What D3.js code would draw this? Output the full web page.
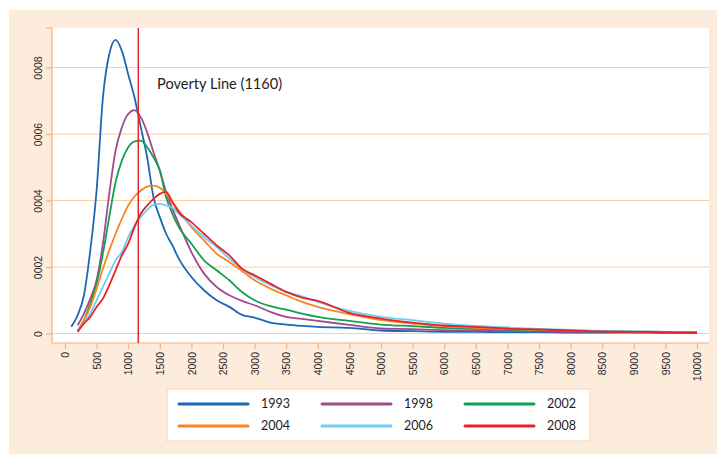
<!DOCTYPE html>
<html>
<head>
<meta charset="utf-8">
<script src="https://cdn.jsdelivr.net/npm/d3@7"></script>
<style>
    html, body { margin: 0; padding: 0; background: #ffffff; }
    svg { display: block; font-family: Lato, 'Liberation Sans', sans-serif; }
    .tick-label { font-size: 10.5px; fill: #2a2a2a; }
    .legend-label { font-size: 12.5px; fill: #1e1e1e; }
    .note { font-size: 14.6px; fill: #1e1e1e; }
</style>
</head>
<body>
<div id="container"></div>
<script>
'use strict';

//Data (density in units of 1e-4)
const incomes = [100, 200, 300, 400, 500, 600, 700, 800, 900, 1000, 1100, 1200, 1300, 1400, 1500, 1600, 1700, 1800,
    2000, 2200, 2400, 2600, 2800, 3000, 3250, 3500, 3750, 4000, 4500, 5000, 5500, 6000, 6500, 7000, 7500, 8000,
    8500, 9000, 9500, 10000];
const years = ['1993', '1998', '2002', '2004', '2006', '2008'];
const d1993 = [0.2, 0.55, 1.15, 2.5, 4.3, 7.1, 8.4, 8.83, 8.5, 7.8, 7.1, 6.2, 5.3, 4.1, 3.5, 3.0, 2.65, 2.25,
    1.7, 1.3, 1.0, 0.8, 0.56, 0.48, 0.33, 0.27, 0.23, 0.2, 0.17, 0.09, 0.07, 0.05, 0.05, 0.04, 0.04, 0.03,
    0.03, 0.03, 0.02, 0.02];
const d1998 = [null, 0.25, 0.6, 1.05, 1.6, 2.7, 4.2, 5.5, 6.2, 6.6, 6.72, 6.5, 6.05, 5.45, 4.9, 4.25, 3.75, 3.3,
    2.45, 1.8, 1.4, 1.15, 0.98, 0.85, 0.65, 0.5, 0.44, 0.38, 0.26, 0.15, 0.13, 0.1, 0.09, 0.08, 0.07, 0.05,
    0.05, 0.04, 0.03, 0.02];
const d2002 = [null, 0.05, 0.4, 0.9, 1.5, 2.4, 3.5, 4.55, 5.2, 5.6, 5.78, 5.8, 5.6, 5.3, 4.9, 4.1, 3.6, 3.2,
    2.7, 2.2, 1.9, 1.6, 1.25, 1.0, 0.82, 0.72, 0.6, 0.5, 0.38, 0.27, 0.22, 0.17, 0.14, 0.12, 0.1, 0.08,
    0.06, 0.05, 0.04, 0.03];
const d2004 = [null, 0.1, 0.4, 0.8, 1.35, 1.95, 2.5, 3.0, 3.45, 3.85, 4.12, 4.3, 4.42, 4.45, 4.38, 4.2, 3.95, 3.7,
    3.2, 2.8, 2.4, 2.15, 1.88, 1.6, 1.35, 1.15, 0.95, 0.8, 0.58, 0.4, 0.3, 0.22, 0.17, 0.14, 0.11, 0.09,
    0.07, 0.06, 0.05, 0.04];
const d2006 = [null, 0.1, 0.3, 0.6, 1.0, 1.4, 1.8, 2.2, 2.45, 2.9, 3.25, 3.5, 3.72, 3.87, 3.9, 3.85, 3.78, 3.6,
    3.25, 2.9, 2.6, 2.25, 1.95, 1.7, 1.45, 1.25, 1.12, 0.95, 0.68, 0.5, 0.4, 0.3, 0.23, 0.18, 0.14, 0.11,
    0.08, 0.07, 0.05, 0.04];
const d2008 = [null, 0.05, 0.3, 0.5, 0.8, 1.05, 1.45, 1.9, 2.35, 2.7, 3.2, 3.6, 3.85, 4.05, 4.2, 4.26, 3.95, 3.65,
    3.35, 3.0, 2.65, 2.35, 1.95, 1.75, 1.5, 1.25, 1.08, 0.98, 0.62, 0.45, 0.33, 0.24, 0.2, 0.15, 0.12, 0.09,
    0.06, 0.05, 0.04, 0.03];
const seriesValues = [d1993, d1998, d2002, d2004, d2006, d2008];
const colors = ['#1c68b4', '#a04b8e', '#12a04f', '#f7861f', '#6dcdf3', '#e8222b'];

const xTicks = d3.range(0, 10001, 500);
const yTicks = [0, 2, 4, 6, 8];
const yTickLabels = ['0', '0002', '0004', '0006', '0008'];
const povertyLine = 1160;
const povertyText = 'Poverty Line (1160)';

//Sizing
const VIZ = {
    WIDTH: 717,
    HEIGHT: 454,
    PANEL: { LEFT: 9, TOP: 10 },
    PLOT: { LEFT: 52, TOP: 28, RIGHT: 709, BOTTOM: 343 },
};
const LEGEND = {
    LEFT: 167, TOP: 389, WIDTH: 423, HEIGHT: 52,
    COLS: [12, 155, 298],
    ROWS: [15, 37],
    LINE: 69,
    GAP: 13,
};
const PEACH = '#fdecdc';
const GRID = '#fbcfa6';
const AXIS = '#f5b27a';

//Canvas
const svg = d3.select('#container')
    .append('svg')
    .attr('width', VIZ.WIDTH)
    .attr('height', VIZ.HEIGHT)
    .attr('viewBox', `0 0 ${VIZ.WIDTH} ${VIZ.HEIGHT}`);

svg.append('rect')
    .attr('x', VIZ.PANEL.LEFT)
    .attr('y', VIZ.PANEL.TOP)
    .attr('width', VIZ.WIDTH - VIZ.PANEL.LEFT)
    .attr('height', VIZ.HEIGHT - VIZ.PANEL.TOP)
    .attr('fill', PEACH);

svg.append('rect')
    .attr('x', VIZ.PLOT.LEFT)
    .attr('y', VIZ.PLOT.TOP)
    .attr('width', VIZ.PLOT.RIGHT - VIZ.PLOT.LEFT)
    .attr('height', VIZ.PLOT.BOTTOM - VIZ.PLOT.TOP)
    .attr('fill', '#ffffff');

//Scales
const x = d3.scaleLinear().domain([0, 10000]).range([65, 697]);
const y = d3.scaleLinear().domain([0, 8]).range([333.5, 67.5]);

//Grid lines
svg.append('g')
    .selectAll('line')
    .data(yTicks)
    .join('line')
    .attr('x1', VIZ.PLOT.LEFT)
    .attr('x2', VIZ.PLOT.RIGHT)
    .attr('y1', d => y(d))
    .attr('y2', d => y(d))
    .attr('stroke', GRID)
    .attr('stroke-width', 1.2);

//Axes
drawAxis(d3.axisLeft(y).tickValues(yTicks).tickSize(6).tickFormat((d, i) => yTickLabels[i]),
    VIZ.PLOT.LEFT, 0, 'y');
drawAxis(d3.axisBottom(x).tickValues(xTicks).tickSize(6).tickFormat(d3.format('d')),
    0, VIZ.PLOT.BOTTOM, 'x');

//Curves
const line = d3.line()
    .defined(d => d.value !== null)
    .x(d => x(d.income))
    .y(d => y(d.value))
    .curve(d3.curveMonotoneX);

const plot = svg.append('g');
seriesValues.forEach((values, i) => {
    const points = incomes.map((income, j) => ({ income: income, value: values[j] }));
    plot.append('path')
        .datum(points)
        .attr('fill', 'none')
        .attr('stroke', colors[i])
        .attr('stroke-width', 1.8)
        .attr('stroke-linejoin', 'round')
        .attr('d', line);
});

//Poverty line
svg.append('line')
    .attr('x1', x(povertyLine))
    .attr('x2', x(povertyLine))
    .attr('y1', VIZ.PLOT.TOP)
    .attr('y2', VIZ.PLOT.BOTTOM)
    .attr('stroke', '#e3262e')
    .attr('stroke-width', 1.5);

createText(svg, 'note', povertyText, 157, 89);

//Legend
buildLegend();

//Draw an axis with the orange style
function drawAxis(axis, left, top, type) {
    const g = svg.append('g')
        .attr('transform', `translate(${left}, ${top})`)
        .call(axis);
    g.select('.domain').attr('stroke', AXIS).attr('stroke-width', 1.2);
    g.selectAll('.tick line').attr('stroke', AXIS).attr('stroke-width', 1.2);
    g.selectAll('.tick text')
        .attr('class', 'tick-label')
        .attr('font-family', null)
        .attr('font-size', null);
    if (type === 'y') {
        g.select('.domain').attr('d', `M-6,${VIZ.PLOT.TOP}H0V${VIZ.PLOT.BOTTOM}`);
        g.selectAll('.tick text')
            .attr('x', 0)
            .attr('y', 0)
            .attr('dy', '0.35em')
            .attr('text-anchor', 'middle')
            .attr('transform', 'translate(-14, 0) rotate(-90)');
    } else {
        g.select('.domain').attr('d', `M${VIZ.PLOT.LEFT},0H${VIZ.PLOT.RIGHT}`);
        g.selectAll('.tick text')
            .attr('x', 0)
            .attr('y', 0)
            .attr('dy', '0.35em')
            .attr('text-anchor', 'end')
            .attr('transform', 'translate(0, 9) rotate(-90)');
    }
}

//Create legend
function buildLegend() {
    const g = svg.append('g')
        .attr('transform', `translate(${LEGEND.LEFT} ${LEGEND.TOP})`);
    g.append('rect')
        .attr('width', LEGEND.WIDTH)
        .attr('height', LEGEND.HEIGHT)
        .attr('fill', '#ffffff')
        .attr('stroke', '#f9d2b0')
        .attr('stroke-width', 1);
    years.forEach((year, i) => {
        const cx = LEGEND.COLS[i % 3];
        const cy = LEGEND.ROWS[Math.floor(i / 3)];
        g.append('line')
            .attr('x1', cx)
            .attr('x2', cx + LEGEND.LINE)
            .attr('y1', cy)
            .attr('y2', cy)
            .attr('stroke', colors[i])
            .attr('stroke-width', 3)
            .attr('stroke-linecap', 'round');
        createText(g, 'legend-label', year, cx + LEGEND.LINE + LEGEND.GAP, cy)
            .attr('dy', '0.35em');
    });
}

//Create text function
function createText(place, txtClass, text, x = 0, y = 0) {
    return place.append('text')
        .attr('class', `${txtClass}`)
        .attr('x', x)
        .attr('y', y)
        .text(text);
}
</script>
</body>
</html>
